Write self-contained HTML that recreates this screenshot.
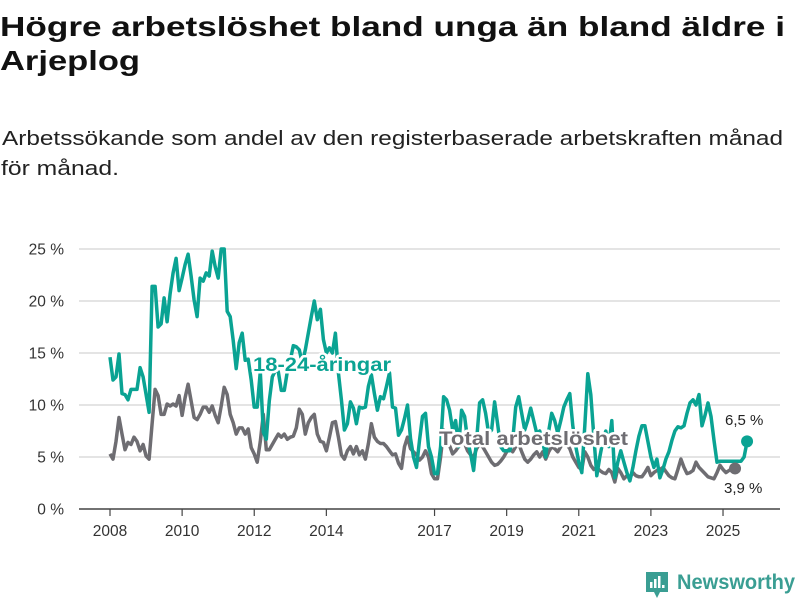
<!DOCTYPE html>
<html><head><meta charset="utf-8">
<style>
html,body{margin:0;padding:0;background:#fff;width:800px;height:600px;overflow:hidden}
svg{display:block;font-family:"Liberation Sans","DejaVu Sans",sans-serif}
</style></head>
<body>
<svg id="chart" width="800" height="600" viewBox="0 0 800 600" xmlns="http://www.w3.org/2000/svg">
<text x="0" y="36" font-size="28" font-weight="bold" fill="#111" textLength="785" lengthAdjust="spacingAndGlyphs">Högre arbetslöshet bland unga än bland äldre i</text>
<text x="0" y="70" font-size="28" font-weight="bold" fill="#111" textLength="140" lengthAdjust="spacingAndGlyphs">Arjeplog</text>
<text x="2" y="145" font-size="20" fill="#222" textLength="781" lengthAdjust="spacingAndGlyphs">Arbetssökande som andel av den registerbaserade arbetskraften månad</text>
<text x="1" y="175" font-size="20" fill="#222" textLength="118" lengthAdjust="spacingAndGlyphs">för månad.</text>
<g id="grid"></g>
<g id="yaxis"></g>
<g id="xaxis"></g>
<g id="series"></g>
<g id="labels"></g>
<g>
<path d="M646 572 h22 v20 h-8 l-3 6 -3 -6 h-8 z" fill="#3a9e93"/>
<rect x="650" y="582" width="2.5" height="6" fill="#fff"/><rect x="654" y="579" width="2.5" height="9" fill="#fff"/><rect x="658" y="576" width="2.5" height="12" fill="#fff"/><rect x="662" y="585" width="2.5" height="3" fill="#fff"/>
<text x="677" y="589" font-size="21" font-weight="bold" fill="#3a9e93" textLength="118" lengthAdjust="spacingAndGlyphs">Newsworthy</text>
</g>
</svg>
<script>
const youth = [14.6,12.4,12.7,14.9,11.1,11.0,10.5,11.5,11.5,11.5,13.6,12.7,11.0,9.3,21.4,21.4,17.5,17.8,20.3,18.0,20.7,22.7,24.1,21.0,22.2,23.5,24.5,22.4,20.1,18.5,22.2,21.9,22.7,22.4,24.8,23.3,22.2,25.0,25.0,19.0,18.5,16.2,13.5,16.0,16.9,14.3,14.4,12.4,9.8,9.8,13.2,7.4,6.7,10.4,12.7,13.3,13.2,11.4,11.4,13.2,14.3,15.7,15.6,15.3,14.0,15.3,16.9,18.5,20.0,18.2,19.2,16.3,15.0,15.5,15.0,16.9,13.1,10.5,7.6,8.2,10.3,9.7,8.2,9.8,9.7,9.8,11.8,12.9,11.1,9.5,10.8,10.6,11.8,13.1,9.8,9.7,7.1,7.6,8.7,10.0,6.8,5.0,4.0,6.6,8.9,9.2,6.0,5.0,3.4,3.4,6.0,10.8,10.5,9.5,7.6,8.5,6.0,9.5,8.9,6.6,5.3,3.7,6.6,10.2,10.5,9.2,7.3,7.6,10.3,8.2,6.0,5.6,5.6,5.6,6.6,9.8,10.8,9.2,7.6,8.5,9.7,8.5,7.3,7.5,6.5,5.0,7.5,9.2,8.5,7.3,8.5,9.8,10.5,11.1,8.0,6.0,4.5,3.5,8.0,13.0,11.0,7.0,3.2,5.0,6.5,7.5,6.0,8.5,3.0,4.5,5.6,4.5,3.5,2.7,4.0,5.6,7.0,8.0,8.0,6.5,5.0,4.0,4.8,3.0,3.8,4.8,5.5,6.6,7.5,7.9,7.8,8.0,9.2,10.2,10.5,10.0,11.0,8.0,9.0,10.2,8.9,6.6,4.5,4.6,4.6,4.6,4.6,4.6,4.6,4.6,4.6,5.0,6.5];
const total = [5.3,4.8,6.5,8.8,7.2,5.7,6.4,6.2,6.9,6.5,5.6,6.2,5.1,4.8,8.2,11.5,10.9,9.1,9.1,10.1,9.9,10.1,9.9,10.9,9.0,10.7,12.0,10.4,8.8,8.6,9.1,9.8,9.8,9.3,9.9,9.0,8.3,9.9,11.7,11.0,9.1,8.3,7.2,7.8,7.8,7.2,7.7,5.9,5.3,4.5,6.5,9.1,5.7,5.7,6.2,6.7,7.2,6.9,7.2,6.7,6.9,7.0,7.8,9.6,9.1,7.2,8.3,8.8,9.1,7.2,6.5,6.4,5.6,6.9,8.3,8.4,6.9,5.2,4.8,5.6,6.0,5.3,6.0,5.2,5.6,4.8,6.3,8.2,6.9,6.5,6.3,6.3,6.0,5.6,5.2,5.3,4.4,3.9,6.0,6.9,5.8,5.5,5.2,4.7,5.0,5.6,5.0,3.4,2.9,2.9,5.0,7.6,6.8,6.1,5.3,5.6,6.0,6.3,6.3,5.6,5.2,5.0,5.8,6.3,6.0,5.5,5.0,4.5,4.2,4.3,4.6,5.0,5.5,5.8,5.5,6.0,6.3,5.5,4.8,4.5,4.8,5.2,5.5,5.0,5.5,4.8,5.5,6.0,5.8,5.5,6.0,6.5,6.2,5.8,5.0,4.5,4.0,3.8,5.5,5.0,4.2,3.8,4.0,3.7,3.5,3.4,3.8,3.5,2.6,3.9,3.5,2.9,3.2,3.0,3.5,3.2,3.1,3.1,3.5,4.0,3.2,3.5,3.7,3.8,4.0,3.6,3.2,3.0,2.9,3.8,4.8,4.0,3.4,3.5,3.7,4.5,4.0,3.7,3.4,3.1,3.0,2.9,3.5,4.2,3.8,3.5,3.7,3.9,3.9];
const yTicks = [0,5,10,15,20,25];
const yTickLabels = ["0 %","5 %","10 %","15 %","20 %","25 %"];
const xTickYears = [2008,2010,2012,2014,2017,2019,2021,2023,2025];
const endLabels = ["6,5 %","3,9 %"];

const NS="http://www.w3.org/2000/svg";
const X0=110, MPX=3.005, Y0=509, YPX=10.4;
function xm(i){return X0+i*MPX;}
function xy(year){return X0+(year-2008)*12*MPX;}
function yv(v){return Y0-v*YPX;}
function mk(tag,attrs,parent){const e=document.createElementNS(NS,tag);for(const k in attrs)e.setAttribute(k,attrs[k]);parent.appendChild(e);return e;}

const grid=document.getElementById('grid'),yax=document.getElementById('yaxis'),xax=document.getElementById('xaxis'),ser=document.getElementById('series'),lab=document.getElementById('labels');
yTicks.forEach((t,i)=>{
  if(t>0){const l=mk('line',{x1:79,x2:780,y1:yv(t),y2:yv(t),stroke:'#dcdcdc','stroke-width':1.5},grid);
  
  }
  const tx=mk('text',{x:64,y:yv(t)+5.5,'font-size':15.5,fill:'#333','text-anchor':'end'},yax);
  tx.textContent=yTickLabels[i];
  
  
});
const ax=mk('line',{x1:79,x2:780,y1:Y0,y2:Y0,stroke:'#444','stroke-width':1.5},xax);


xTickYears.forEach(yr=>{
  const tk=mk('line',{x1:xy(yr),x2:xy(yr),y1:Y0,y2:Y0+7,stroke:'#444','stroke-width':1.2},xax);
  
  
  const tx=mk('text',{x:xy(yr),y:536,'font-size':15.5,fill:'#333','text-anchor':'middle'},xax);
  tx.textContent=yr;
  
  
});
function pts(arr){return arr.map((v,i)=>xm(i).toFixed(1)+','+yv(v).toFixed(1)).join(' ');}
const lt=mk('polyline',{points:pts(total),fill:'none',stroke:'#6e6d72','stroke-width':3.5,'stroke-linejoin':'round'},ser);


const ly=mk('polyline',{points:pts(youth),fill:'none',stroke:'#0aa393','stroke-width':3.5,'stroke-linejoin':'round'},ser);


const n=youth.length-1;
const dy=mk('circle',{cx:xm(n),cy:yv(youth[n]),r:6,fill:'#0aa393'},ser);


const dt=mk('circle',{cx:xm(total.length-1),cy:yv(total[total.length-1]),r:6,fill:'#6e6d72'},ser);


function halo(txt,x,y,col,size,name,w){
  const t1=mk('text',{x:x,y:y,'font-size':size,'font-weight':'bold',fill:'#fff',stroke:'#fff','stroke-width':5,'stroke-linejoin':'round',textLength:w,lengthAdjust:'spacingAndGlyphs'},lab);t1.textContent=txt;
  
  
  const t2=mk('text',{x:x,y:y,'font-size':size,'font-weight':'bold',fill:col,textLength:w,lengthAdjust:'spacingAndGlyphs'},lab);t2.textContent=txt;
  
  
}
halo('18-24-åringar',253,371,'#0aa393',19,'youth-series-label',138);
halo('Total arbetslöshet',439,445,'#6e6d72',19,'total-series-label',189);
const e1=mk('text',{x:725,y:425,'font-size':15,fill:'#222'},lab);e1.textContent=endLabels[0];


const e2=mk('text',{x:724,y:493,'font-size':15,fill:'#222'},lab);e2.textContent=endLabels[1];


</script>
</body></html>
